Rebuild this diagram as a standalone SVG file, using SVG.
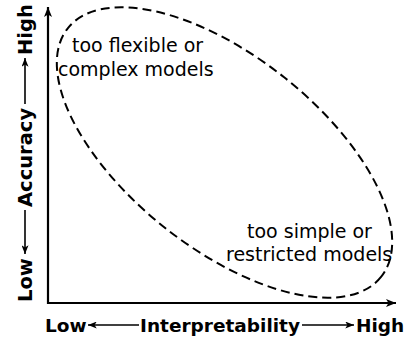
<svg xmlns="http://www.w3.org/2000/svg" width="405" height="337" viewBox="0 0 405 337">
<defs>
<marker id="ah" viewBox="0 0 10 8" refX="10" refY="4" markerWidth="10" markerHeight="8" markerUnits="userSpaceOnUse" orient="auto">
<path d="M0,0 L10,4 L0,8 L2.5,4 Z" fill="#000"/>
</marker>
<marker id="sa" viewBox="0 0 10 8" refX="10" refY="4" markerWidth="9" markerHeight="7" markerUnits="userSpaceOnUse" orient="auto">
<path d="M0,0 L10,4 L0,8 L2.5,4 Z" fill="#000"/>
</marker>
</defs>
<style>
.ax{stroke:#000;stroke-width:2.2;fill:none}
.sm{stroke:#000;stroke-width:1.6;fill:none}
.lb{font-family:"DejaVu Sans",sans-serif;font-size:18.5px;font-weight:bold;fill:#000}
.vl{font-size:19.5px}
.tx{font-family:"DejaVu Sans",sans-serif;font-size:19px;fill:#000}
</style>
<rect width="405" height="337" fill="#fff"/>
<g id="connectors">
<line class="ax" x1="48" y1="304" x2="48" y2="7" marker-end="url(#ah)"/>
<line class="ax" x1="47" y1="303" x2="396" y2="303" marker-end="url(#ah)"/>
<line class="sm" x1="139" y1="325" x2="88" y2="325" marker-end="url(#sa)"/>
<line class="sm" x1="302" y1="325" x2="354" y2="325" marker-end="url(#sa)"/>
<line class="sm" x1="25" y1="104" x2="25" y2="58" marker-end="url(#sa)"/>
<line class="sm" x1="25" y1="210" x2="25" y2="254" marker-end="url(#sa)"/>
</g>
<g id="region">
<ellipse cx="224.5" cy="152.5" rx="200" ry="96" transform="rotate(38.4 224.5 152.5)" fill="none" stroke="#000" stroke-width="2" stroke-dasharray="9,5"/>
</g>
<g id="label-flexible">
<text class="tx" x="72" y="52">too flexible or</text>
<text class="tx" x="58" y="76">complex models</text>
</g>
<g id="label-simple">
<text class="tx" x="247" y="238">too simple or</text>
<text class="tx" x="226" y="261">restricted models</text>
</g>
<g id="x-axis-label">
<text class="lb" x="45" y="332">Low</text>
<text class="lb" x="140" y="332">Interpretability</text>
<text class="lb" x="356" y="332">High</text>
</g>
<g id="y-axis-label">
<text class="lb vl" transform="translate(32,302) rotate(-90)">Low</text>
<text class="lb vl" transform="translate(32,207) rotate(-90)">Accuracy</text>
<text class="lb vl" transform="translate(32,55) rotate(-90)">High</text>
</g>
</svg>
